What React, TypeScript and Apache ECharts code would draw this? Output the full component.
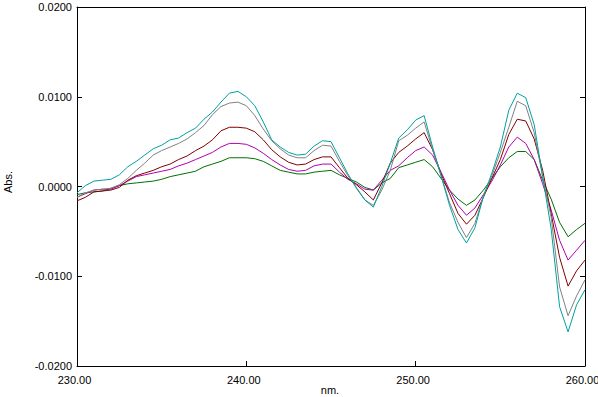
import React, { useEffect, useRef } from "react";
import * as echarts from "echarts";

const wavelengths = [
  230, 230.5, 231, 231.5, 232, 232.5, 233, 233.5, 234, 234.5,
  235, 235.5, 236, 236.5, 237, 237.5, 238, 238.5, 239, 239.5,
  240, 240.5, 241, 241.5, 242, 242.5, 243, 243.5, 244, 244.5,
  245, 245.5, 246, 246.5, 247, 247.5, 248, 248.5, 249, 249.5,
  250, 250.5, 251, 251.5, 252, 252.5, 253, 253.5, 254, 254.5,
  255, 255.5, 256, 256.5, 257, 257.5, 258, 258.5, 259, 259.5, 260,
];

const tealValues = [
  -0.0007, 0.0001, 0.0006, 0.0007, 0.0008, 0.0013, 0.0022, 0.0028, 0.0035, 0.0042,
  0.0046, 0.0052, 0.0054, 0.006, 0.0065, 0.0075, 0.0083, 0.0094, 0.0104, 0.0106,
  0.01, 0.009, 0.0072, 0.0052, 0.0044, 0.0038, 0.0035, 0.0036, 0.0045, 0.0051,
  0.005, 0.0032, 0.0014, -0.0002, -0.0015, -0.0023, 0.0, 0.0026, 0.0054, 0.0063,
  0.0074, 0.0079, 0.0044, 0.0012, -0.0021, -0.0048, -0.0063, -0.0046, -0.0011, 0.0015,
  0.0044, 0.0085, 0.0104, 0.0099, 0.0069, 0.0011, -0.0047, -0.0134, -0.0162, -0.0132, -0.0115,
];

const grayValues = [
  -0.0012, -0.0007, -0.0004, -0.0003, -0.0002, 0.0002, 0.0009, 0.0018, 0.0026, 0.0035,
  0.004, 0.0044, 0.0048, 0.0053, 0.006, 0.0068, 0.008, 0.0089, 0.0093, 0.0094,
  0.009, 0.0079, 0.0064, 0.0051, 0.0042, 0.0035, 0.0032, 0.0032, 0.004, 0.0046,
  0.0045, 0.0028, 0.0012, -0.0001, -0.0015, -0.0021, -0.0004, 0.0018, 0.0051, 0.0057,
  0.0065, 0.0072, 0.0041, 0.0012, -0.0018, -0.004, -0.0057, -0.0041, -0.0011, 0.0012,
  0.0038, 0.0066, 0.0095, 0.009, 0.006, 0.0011, -0.0034, -0.0112, -0.0144, -0.0122, -0.0104,
];

const redValues = [
  -0.0016, -0.0012, -0.0006, -0.0005, -0.0004, -0.0001, 0.0007, 0.0012, 0.0015, 0.0018,
  0.0022, 0.0025, 0.003, 0.0034, 0.004, 0.0045, 0.0052, 0.0062, 0.0066, 0.0066,
  0.0065, 0.0061, 0.0052, 0.0041, 0.0033, 0.0027, 0.0024, 0.0025, 0.003, 0.0033,
  0.0033, 0.0021, 0.0009, 0.0002, -0.0006, -0.0015, 0.0004, 0.0026, 0.0038, 0.0045,
  0.0053, 0.006, 0.0041, 0.0014, -0.0008, -0.003, -0.0042, -0.0032, -0.0012, 0.0009,
  0.003, 0.0058, 0.0075, 0.0073, 0.0053, 0.0018, -0.003, -0.0079, -0.0111, -0.0094, -0.0082,
];

const magentaValues = [
  -0.0012, -0.0008, -0.0004, -0.0003, -0.0003, 0.0001, 0.0006, 0.0011, 0.0013, 0.0015,
  0.0017, 0.0019, 0.0023, 0.0026, 0.003, 0.0034, 0.0038, 0.0044, 0.0048, 0.0048,
  0.0047, 0.0043, 0.0037, 0.003, 0.0024, 0.0019, 0.0017, 0.0018, 0.0023, 0.0025,
  0.0025, 0.0016, 0.0008, 0.0003, -0.0003, -0.0004, 0.0007, 0.0018, 0.0023, 0.0032,
  0.004, 0.0044, 0.0035, 0.0016, -0.0004, -0.0021, -0.0032, -0.0024, -0.0009, 0.0006,
  0.0024, 0.0044, 0.0055, 0.0048, 0.003, 0.0003, -0.0026, -0.006, -0.0082, -0.0071, -0.006,
];

const greenValues = [
  -0.0009, -0.0007, -0.0006, -0.0005, -0.0002, 0.0001, 0.0003, 0.0004, 0.0005, 0.0006,
  0.0008, 0.0011, 0.0013, 0.0015, 0.0017, 0.0022, 0.0025, 0.0028, 0.0032, 0.0032,
  0.0032, 0.0031, 0.0028, 0.0023, 0.0018, 0.0016, 0.0014, 0.0014, 0.0016, 0.0017,
  0.0018, 0.0013, 0.0009, 0.0005, -0.0001, -0.0004, 0.0004, 0.0009, 0.0021, 0.0024,
  0.0027, 0.003, 0.0022, 0.0009, -0.0004, -0.0014, -0.0021, -0.0015, -0.0004, 0.0009,
  0.0022, 0.0032, 0.0039, 0.0039, 0.003, 0.0007, -0.0014, -0.004, -0.0056, -0.0048, -0.0041,
];

const xTickLabels = ["230.00", "240.00", "250.00", "260.00"];
const yTickLabels = ["-0.0200", "-0.0100", "0.0000", "0.0100", "0.0200"];

const FONT = "'Liberation Sans', Arial, sans-serif";

export default function App() {
  const ref = useRef<HTMLDivElement>(null);
  useEffect(() => {
    if (!ref.current) return;
    const chart = echarts.init(ref.current, null, { renderer: "svg" });
    const mk = (name: string, vals: number[], color: string) => ({
      type: "line",
      name,
      data: wavelengths.map((w, i) => [w, vals[i]]),
      symbol: "none",
      smooth: false,
      lineStyle: { color, width: 1 },
      itemStyle: { color },
      xAxisIndex: 0,
      yAxisIndex: 0,
    });
    const axisLine = { show: true, onZero: false, lineStyle: { color: "#000", width: 1 } };
    chart.setOption({
      animation: false,
      backgroundColor: "#fff",
      grid: {
        left: 77,
        top: 7,
        width: 508,
        height: 359,
        containLabel: false,
        outerBoundsMode: "none",
      },
      xAxis: [
        {
          type: "value",
          min: 230,
          max: 260,
          interval: 10,
          position: "bottom",
          axisLine,
          axisTick: { show: true, inside: true, length: 5, lineStyle: { color: "#000" } },
          axisLabel: {
            color: "#000",
            fontSize: 11,
            fontFamily: FONT,
            margin: 8,
            padding: [0, 5, 0, 0],
            formatter: (v: number) => xTickLabels[Math.round((v - 230) / 10)] ?? v.toFixed(2),
          },
          splitLine: { show: false },
        },
        {
          type: "value",
          min: 230,
          max: 260,
          position: "top",
          axisLine,
          axisTick: { show: false },
          axisLabel: { show: false },
          splitLine: { show: false },
        },
      ],
      yAxis: [
        {
          type: "value",
          min: -0.02,
          max: 0.02,
          interval: 0.01,
          position: "left",
          axisLine,
          axisTick: { show: true, inside: true, length: 5, lineStyle: { color: "#000" } },
          axisLabel: {
            color: "#000",
            fontSize: 11,
            fontFamily: FONT,
            margin: 5,
            formatter: (v: number) => yTickLabels[Math.round((v + 0.02) / 0.01)] ?? v.toFixed(4),
          },
          splitLine: { show: false },
        },
        {
          type: "value",
          min: -0.02,
          max: 0.02,
          interval: 0.01,
          position: "right",
          axisLine,
          axisTick: { show: true, inside: true, length: 5, lineStyle: { color: "#000" } },
          axisLabel: { show: false },
          splitLine: { show: false },
        },
      ],
      graphic: [
        {
          type: "text",
          x: 8,
          y: 182,
          rotation: Math.PI / 2,
          style: {
            text: "Abs.",
            fill: "#000",
            fontSize: 11,
            fontFamily: FONT,
            align: "center",
            verticalAlign: "middle",
          },
        },
        {
          type: "text",
          x: 330,
          y: 390,
          style: {
            text: "nm.",
            fill: "#000",
            fontSize: 11,
            fontFamily: FONT,
            align: "center",
            verticalAlign: "middle",
          },
        },
      ],
      series: [
        mk("green", greenValues, "#007000"),
        mk("magenta", magentaValues, "#b000b0"),
        mk("red", redValues, "#800000"),
        mk("gray", grayValues, "#808080"),
        mk("teal", tealValues, "#00a0a0"),
      ],
    });
    return () => chart.dispose();
  }, []);
  return (
    <div
      ref={ref}
      style={{ position: "fixed", left: 0, top: 0, width: 598, height: 397 }}
    />
  );
}
